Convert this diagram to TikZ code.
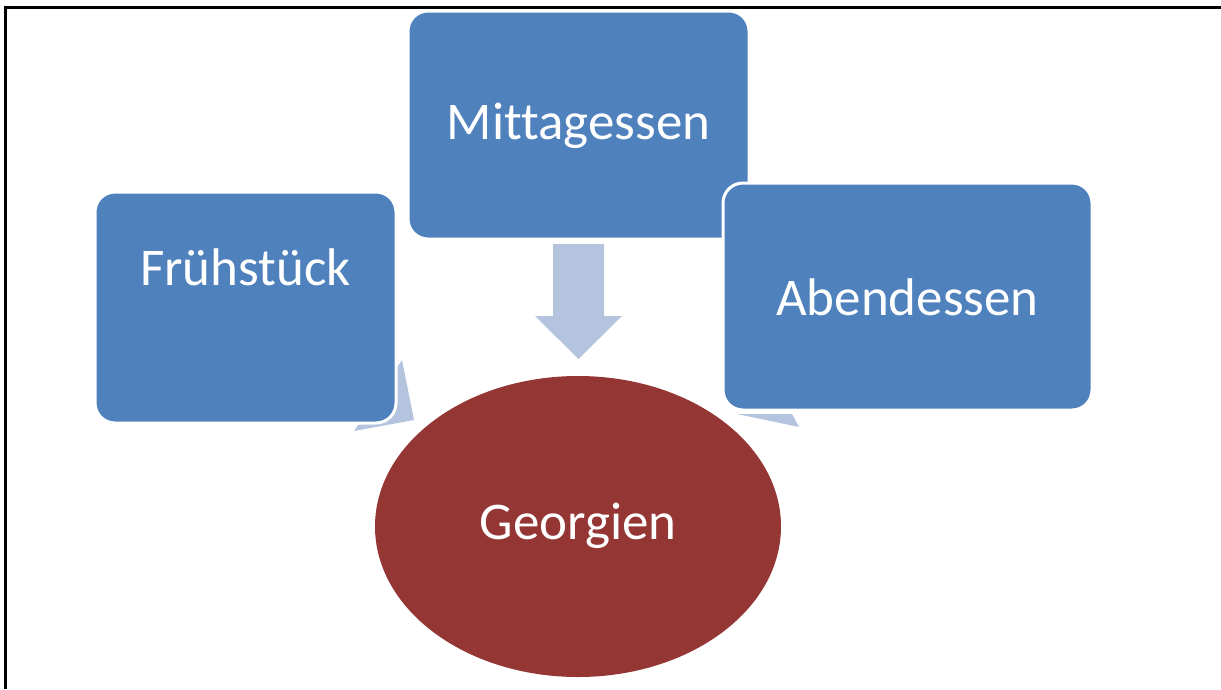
\documentclass[tikz,border=0pt]{standalone}
\usepackage{fontspec}
\setmainfont{Carlito}[Ligatures=NoCommon]
\usetikzlibrary{shapes.geometric}
\definecolor{boxblue}{HTML}{4F81BD}
\definecolor{ellred}{HTML}{943634}
\definecolor{arrowblue}{HTML}{B4C4DE}
\tikzset{
  box/.style={draw=white, line width=3pt, fill=boxblue, rounded corners=20pt, inner sep=0pt},
  lbl/.style={text=white, font=\fontsize{53}{60}\selectfont, inner sep=0pt},
  arr/.style={fill=arrowblue, draw=none},
  frame/.style={line width=3pt, draw=black}
}
\begin{document}
\begin{tikzpicture}[x=1pt,y=-1pt]
\useasboundingbox (0,0) rectangle (1221,689);
\draw[frame] (5,689) -- (5,7.5) -- (1221,7.5);
% partly hidden arrowheads
\fill[arr] (402,360) -- (414,420) -- (354,431) -- cycle;
\fill[arr] (737,414) -- (792,414) -- (799,427) -- cycle;
% boxes
\node[box, minimum width=341pt, minimum height=228pt] (mi) at (578.5,125) {};
\node[box, minimum width=301pt, minimum height=231pt] (fr) at (245.5,307.5) {};
\node[box, minimum width=369pt, minimum height=227pt] (ab) at (907.5,296.5) {};
\node[ellipse, fill=ellred, minimum width=406pt, minimum height=301pt, inner sep=0pt] (ge) at (578,526.5) {};
% down arrow
\fill[arr] (553,244) -- (604,244) -- (604,316) -- (622,316) -- (578.5,359) -- (535,316) -- (553,316) -- cycle;
% labels
\node[lbl] (tmi) at (578.5,126) {Mittagessen};
\node[lbl] (tfr) at (245.5,267) {Frühstück};
\node[lbl] (tab) at (907.5,297) {Abendessen};
\node[lbl] (tge) at (578,526) {Georgien};
\end{tikzpicture}
\end{document}
